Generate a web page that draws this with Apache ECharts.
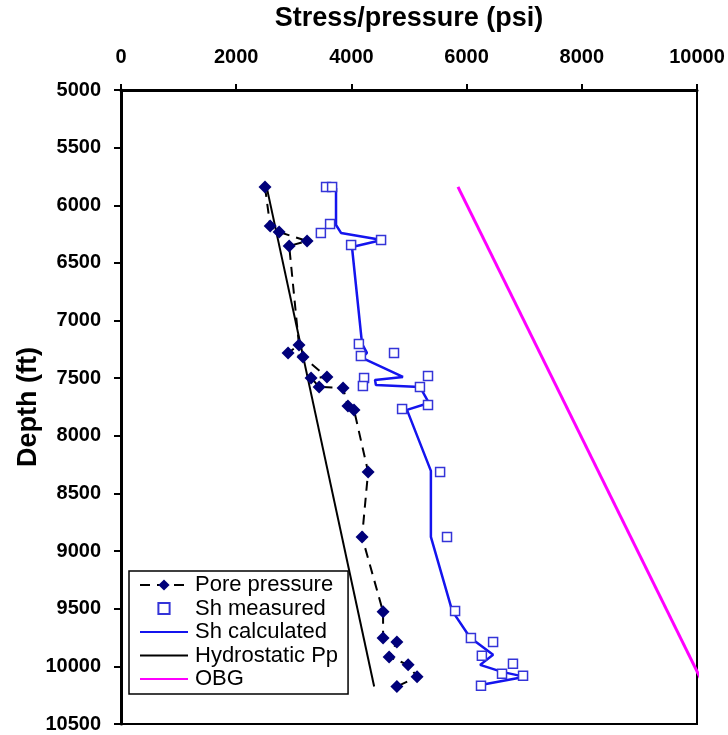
<!DOCTYPE html>
<html>
<head>
<meta charset="utf-8" />
<title>Stress/pressure vs depth</title>
<script src="https://cdn.jsdelivr.net/npm/echarts@6/dist/echarts.min.js"></script>
<style>
  html, body { margin: 0; padding: 0; background: #fff; }
  #chart { width: 728px; height: 735px; }
</style>
</head>
<body>
<div id="chart"></div>
<script type="text/javascript">
// pore pressure (psi) at depth (ft)
var porePsi   = [2500, 2590, 2745, 3230, 2920, 3090, 2900, 3160, 3575, 3300, 3440, 3855, 3940, 4045, 4290, 4185, 4550, 4550, 4790, 4655, 4985, 5140, 4790];
var poreDepth = [5841, 6180, 6232, 6310, 6353, 7212, 7281, 7316, 7489, 7498, 7576, 7585, 7741, 7775, 8313, 8877, 9527, 9753, 9788, 9918, 9987, 10091, 10175];

// Sh measured
var shMeasPsi   = [3560, 3665, 3630, 3470, 4515, 3995, 4130, 4740, 4165, 5330, 4220, 4200, 5190, 5330, 4880, 5540, 5660, 5800, 6075, 6460, 6265, 6805, 6615, 6980, 6250];
var shMeasDepth = [5841, 5841, 6162, 6240, 6301, 6344, 7203, 7281, 7307, 7480, 7498, 7567, 7576, 7732, 7767, 8313, 8877, 9519, 9753, 9788, 9909, 9978, 10065, 10082, 10169];

// Sh calculated
var shCalcPsi   = [3733, 3733, 3820, 4530, 4010, 4185, 4270, 4185, 4895, 4410, 4425, 5190, 5345, 4965, 5380, 5380, 5750, 6060, 6460, 6235, 6615, 7015, 6265];
var shCalcDepth = [5850, 6171, 6240, 6301, 6362, 7203, 7281, 7324, 7489, 7515, 7559, 7576, 7715, 7775, 8304, 8877, 9519, 9750, 9900, 9987, 10048, 10091, 10160];

// hydrostatic and overburden gradients
var hydroPsi   = [2530, 4395];
var hydroDepth = [5845, 10175];
var obgPsi     = [5850, 10100];
var obgDepth   = [5840, 10145];

var xTicks = [0, 2000, 4000, 6000, 8000, 10000];
var yTicks = [5000, 5500, 6000, 6500, 7000, 7500, 8000, 8500, 9000, 9500, 10000, 10500];

function pairs(xs, ys) {
    return xs.map(function (x, i) { return [x, ys[i]]; });
}
function plain(v) { return String(v); }

var font = 'Liberation Sans, Arial, sans-serif';
var noMark = 'rgba(0,0,0,0)';
var myChart = echarts.init(document.getElementById('chart'));

myChart.setOption({
    animation: false,
    backgroundColor: '#fff',
    grid: {
        left: 121, top: 90, right: 31, bottom: 11,
        outerBoundsMode: 'none',
        containLabel: false,
        show: true, borderColor: '#000', borderWidth: 2
    },
    legend: {
        orient: 'vertical',
        left: 129, top: 571,
        padding: [3, 10, 4, 10],
        itemGap: 1.5,
        itemWidth: 48,
        itemHeight: 14,
        backgroundColor: '#fff',
        borderColor: '#000',
        borderWidth: 1.5,
        textStyle: { fontFamily: font, fontSize: 22, color: '#000', padding: [0, 0, 0, 2] },
        data: ['Pore pressure', 'Sh measured', 'Sh calculated', 'Hydrostatic Pp', 'OBG']
    },
    xAxis: {
        type: 'value',
        position: 'top',
        min: xTicks[0], max: xTicks[xTicks.length - 1], interval: 2000,
        name: 'Stress/pressure (psi)',
        nameLocation: 'middle',
        nameGap: 58,
        nameMoveOverlap: false,
        nameTextStyle: { fontFamily: font, fontWeight: 'bold', fontSize: 27, color: '#000' },
        axisLine: { show: true, lineStyle: { color: '#000', width: 3 } },
        axisTick: { show: true, length: 6, lineStyle: { color: '#000', width: 2 } },
        axisLabel: { margin: 23, formatter: plain, fontFamily: font, fontWeight: 'bold', fontSize: 20, color: '#000' },
        splitLine: { show: false }
    },
    yAxis: {
        type: 'value',
        inverse: true,
        min: yTicks[0], max: yTicks[yTicks.length - 1], interval: 500,
        name: 'Depth (ft)',
        nameLocation: 'middle',
        nameGap: 79,
        nameRotate: 90,
        nameMoveOverlap: false,
        nameTextStyle: { fontFamily: font, fontWeight: 'bold', fontSize: 27, color: '#000' },
        axisLine: { show: true, lineStyle: { color: '#000', width: 3 } },
        axisTick: { show: true, length: 7, lineStyle: { color: '#000', width: 2 } },
        axisLabel: { margin: 20, formatter: plain, fontFamily: font, fontWeight: 'bold', fontSize: 20, color: '#000' },
        splitLine: { show: false }
    },
    series: [
        {
            name: 'Hydrostatic Pp',
            type: 'line',
            data: pairs(hydroPsi, hydroDepth),
            symbol: 'none',
            itemStyle: { color: noMark },
            lineStyle: { color: '#000', width: 2 },
            z: 2
        },
        {
            name: 'OBG',
            type: 'line',
            data: pairs(obgPsi, obgDepth),
            symbol: 'none',
            clip: false,
            itemStyle: { color: noMark },
            lineStyle: { color: '#ff00ff', width: 3 },
            z: 2
        },
        {
            name: 'Sh calculated',
            type: 'line',
            data: pairs(shCalcPsi, shCalcDepth),
            symbol: 'none',
            itemStyle: { color: noMark },
            lineStyle: { color: '#1414ee', width: 2.5 },
            z: 3
        },
        {
            name: 'Sh measured',
            type: 'line',
            data: pairs(shMeasPsi, shMeasDepth),
            symbol: 'rect',
            symbolSize: 9,
            showAllSymbol: true,
            itemStyle: { color: '#fff', borderColor: '#3434d8', borderWidth: 1.5 },
            lineStyle: { opacity: 0, width: 0 },
            z: 4
        },
        {
            name: 'Pore pressure',
            type: 'line',
            data: pairs(porePsi, poreDepth),
            symbol: 'diamond',
            symbolSize: 13,
            showAllSymbol: true,
            itemStyle: { color: '#00007a', borderWidth: 0 },
            lineStyle: { color: '#000', width: 2, type: [10, 7] },
            z: 5
        }
    ]
});
</script>
</body>
</html>
